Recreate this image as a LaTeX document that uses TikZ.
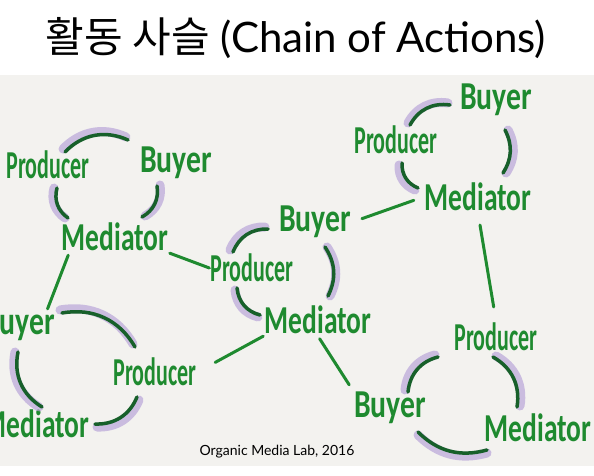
\documentclass[tikz,border=0pt]{standalone}
\usepackage{fontspec}
\setmainfont{Lato}
\newfontfamily\krfont{Noto Sans CJK KR}
\newfontfamily\handfont{Carlito}
\usepackage{xcolor}
\usetikzlibrary{positioning}

\definecolor{paper}{HTML}{F3F2EF}
\definecolor{handgreen}{HTML}{1E8A2F}
\definecolor{arcgreen}{HTML}{17602A}
\definecolor{glowpurple}{HTML}{B9A6D9}

\begin{document}
\begin{tikzpicture}[x=1pt,y=-1pt,
    hand/.style={font=\handfont\bfseries\fontsize{22}{22}\selectfont,text=handgreen,inner sep=1pt,transform shape,yscale=1.8},
    buyer/.style={hand,xscale=1.35},
    mediator/.style={hand,xscale=1.25},
    link/.style={draw=handgreen,line width=3pt,line cap=round},
    cyc/.style={draw=arcgreen,line width=3.5pt,line cap=round},
    glow/.style={draw=glowpurple,line width=9pt,line cap=round,opacity=.7}]
    \useasboundingbox (0,0) rectangle (594,476);
    \clip (0,0) rectangle (594,476);
    \fill[white] (0,0) rectangle (594,476);
    \fill[paper] (0,75) rectangle (594,466);

    \node[font=\fontsize{42}{42}\selectfont] (title) at (296,38) {{\krfont 활동 사슬} (Chain of Actions)};
    \node[font=\fontsize{14}{14}\selectfont] (credit) at (277,452) {Organic Media Lab, 2016};

    % the five cycles
    \path
        (48,165)  node [hand]     (prodA) {Producer}
        (176,163) node [buyer]    (buyA)  {Buyer}
        (115,237) node [mediator] (medA)  {Mediator}
        (315,222) node [buyer]    (buyB)  {Buyer}
        (252,268) node [hand]     (prodB) {Producer}
        (318,320) node [mediator] (medB)  {Mediator}
        (496,100) node [buyer]    (buyC)  {Buyer}
        (396,140) node [hand]     (prodC) {Producer}
        (478,197) node [mediator] (medC)  {Mediator}
        (19,325)  node [buyer]    (buyD)  {Buyer}
        (155,372) node [hand]     (prodD) {Producer}
        (36,424)  node [mediator] (medD)  {Mediator}
        (496,337) node [hand]     (prodE) {Producer}
        (390,408) node [buyer]    (buyE)  {Buyer}
        (538,428) node [mediator] (medE)  {Mediator}
        ;

    \draw[glow,shift={(-2,-3)}] (65,152) to[bend left=35] (128,140);
    \draw[glow,shift={(-3,0)}]  (57,188) to[bend right=35] (68,218);
    \draw[glow,shift={(3,-1)}]  (157,186) to[bend left=35] (142,217);
    \draw[cyc] (65,152) to[bend left=35] (128,140);
    \draw[cyc] (57,188) to[bend right=35] (68,218);
    \draw[cyc] (157,186) to[bend left=35] (142,217);

    \draw[glow,shift={(-3,-2)}] (233,252) to[bend left=35] (268,229);
    \draw[glow,shift={(2,0)}]   (325,247) to[bend left=30] (328,296);
    \draw[glow,shift={(-2,2)}]  (237,288) to[bend right=35] (260,315);
    \draw[cyc] (233,252) to[bend left=35] (268,229);
    \draw[cyc] (325,247) to[bend left=30] (328,296);
    \draw[cyc] (237,288) to[bend right=35] (260,315);

    \draw[glow,shift={(-2,-2)}] (410,125) to[bend left=35] (450,105);
    \draw[glow,shift={(3,0)}]   (505,130) to[bend left=30] (503,173);
    \draw[glow,shift={(-3,2)}]  (402,163) to[bend right=35] (418,188);
    \draw[cyc] (410,125) to[bend left=35] (450,105);
    \draw[cyc] (505,130) to[bend left=30] (503,173);
    \draw[cyc] (402,163) to[bend right=35] (418,188);

    \draw[glow,shift={(-2,-3)}] (62,313) to[bend left=35] (135,347);
    \draw[glow,shift={(-3,0)}]  (18,352) to[bend right=35] (42,407);
    \draw[glow,shift={(2,3)}]   (95,424) to[bend right=35] (137,397);
    \draw[cyc] (62,313) to[bend left=35] (135,347);
    \draw[cyc] (18,352) to[bend right=35] (42,407);
    \draw[cyc] (95,424) to[bend right=35] (137,397);

    \draw[glow,shift={(-3,-2)}] (408,392) to[bend left=35] (438,357);
    \draw[glow,shift={(3,-1)}]  (493,357) to[bend left=35] (517,407);
    \draw[glow,shift={(0,3)}]   (418,432) to[bend right=30] (487,450);
    \draw[cyc] (408,392) to[bend left=35] (438,357);
    \draw[cyc] (493,357) to[bend left=35] (517,407);
    \draw[cyc] (418,432) to[bend right=30] (487,450);

    % links between the cycles
    \draw[link] (medA.south east) -- (prodB.west);
    \draw[link] ([xshift=8pt,yshift=-2pt]medA.south west) -- ([xshift=-9pt,yshift=-2pt]buyD.north east);
    \draw[link,shorten <=10pt,shorten >=10pt] (buyB.east) -- (medC.west);
    \draw[link,shorten >=20pt] (medB.south west) -- (prodD.east);
    \draw[link,shorten <=3pt,shorten >=6pt] (medB.south) -- (buyE.north west);
    \draw[link,shorten <=12pt,shorten >=14pt] (medC.south) -- (prodE.north);
\end{tikzpicture}
\end{document}
